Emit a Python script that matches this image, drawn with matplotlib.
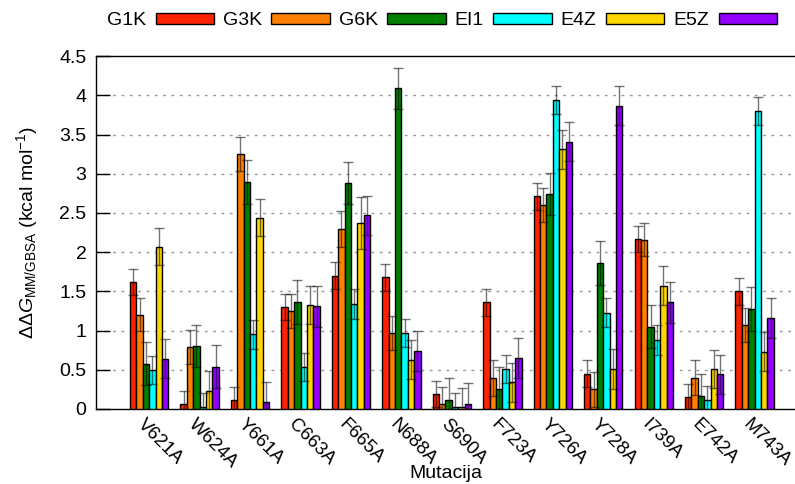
import numpy as np
import matplotlib
matplotlib.use("Agg")
import matplotlib.pyplot as plt
from matplotlib.transforms import ScaledTranslation

plt.rcParams['font.family'] = ['Liberation Sans', 'DejaVu Sans']
plt.rcParams['mathtext.fontset'] = 'custom'
plt.rcParams['mathtext.rm'] = 'Liberation Sans'
plt.rcParams['mathtext.it'] = 'Liberation Sans:italic'
plt.rcParams['font.size'] = 14

mutations = ['V621A', 'W624A', 'Y661A', 'C663A', 'F665A', 'N688A', 'S690A',
             'F723A', 'Y726A', 'Y728A', 'I739A', 'E742A', 'M743A']
series = ['G1K', 'G3K', 'G6K', 'EI1', 'E4Z', 'E5Z']

g1k = [1.62, 0.06, 0.11, 1.30, 1.70, 1.68, 0.19, 1.36, 2.71, 0.45, 2.17, 0.15, 1.50]
g3k = [1.20, 0.79, 3.25, 1.25, 2.30, 0.97, 0.06, 0.39, 2.60, 0.25, 2.16, 0.40, 1.07]
g6k = [0.58, 0.80, 2.89, 1.36, 2.88, 4.09, 0.11, 0.26, 2.74, 1.86, 1.05, 0.17, 1.28]
ei1 = [0.50, 0.02, 0.95, 0.54, 1.34, 0.97, 0.03, 0.51, 3.94, 1.23, 0.88, 0.11, 3.80]
e4z = [2.07, 0.23, 2.44, 1.33, 2.37, 0.63, 0.02, 0.34, 3.31, 0.51, 1.57, 0.51, 0.73]
e5z = [0.64, 0.54, 0.09, 1.31, 2.47, 0.74, 0.06, 0.65, 3.41, 3.87, 1.36, 0.44, 1.16]

g1k_err = [0.17, 0.17, 0.17, 0.17, 0.17, 0.17, 0.17, 0.17, 0.17, 0.17, 0.17, 0.17, 0.17]
g3k_err = [0.21, 0.22, 0.22, 0.22, 0.23, 0.22, 0.22, 0.23, 0.22, 0.22, 0.21, 0.22, 0.22]
g6k_err = [0.27, 0.27, 0.28, 0.28, 0.27, 0.26, 0.28, 0.28, 0.27, 0.28, 0.27, 0.27, 0.28]
ei1_err = [0.18, 0.19, 0.18, 0.18, 0.19, 0.18, 0.18, 0.18, 0.18, 0.18, 0.19, 0.18, 0.18]
e4z_err = [0.24, 0.25, 0.24, 0.24, 0.33, 0.25, 0.25, 0.25, 0.25, 0.25, 0.25, 0.24, 0.25]
e5z_err = [0.25, 0.27, 0.26, 0.26, 0.25, 0.25, 0.27, 0.25, 0.25, 0.25, 0.26, 0.25, 0.26]

values = [g1k, g3k, g6k, ei1, e4z, e5z]
errors = [g1k_err, g3k_err, g6k_err, ei1_err, e4z_err, e5z_err]
colors = ['#ff2200', '#ff8000', '#008000', '#00ffff', '#ffd700', '#9400ff']

fig = plt.figure(figsize=(7.95, 4.84), dpi=100)
ax = fig.add_axes([0.121, 0.155, 0.879, 0.729])

x = np.arange(len(mutations))
width = 0.127
for i, (name, vals, errs, c) in enumerate(zip(series, values, errors, colors)):
    pos = x + (i - 2.5) * width
    ax.bar(pos, vals, width, color=c, edgecolor='black', linewidth=1.0,
           label=name, zorder=3)
    ax.errorbar(pos, vals, yerr=errs, fmt='none', ecolor='black', alpha=0.55,
                elinewidth=1.0, capsize=3.5, capthick=1.0, zorder=4)

ax.set_xlim(-1.05, 12.8)
ax.set_ylim(0, 4.5)
ax.set_yticks(np.arange(0, 4.51, 0.5))
ax.set_yticklabels(['0', '0.5', '1', '1.5', '2', '2.5', '3', '3.5', '4', '4.5'])
ax.tick_params(axis='y', direction='in', length=10, width=1, pad=7)
ax.set_xticks(x)
ax.set_xticklabels(mutations, rotation=-45, ha='left', va='top',
                   rotation_mode='anchor', fontsize=13.5)
ax.tick_params(axis='x', length=0, pad=5)
shift = ScaledTranslation(-3 / 100, 0, fig.dpi_scale_trans)
for lbl in ax.get_xticklabels():
    lbl.set_transform(lbl.get_transform() + shift)

for yv in np.arange(0.5, 4.01, 0.5):
    ax.axhline(yv, color='#999999', linewidth=1.0, linestyle=(0, (2, 4)), zorder=1)

ax.spines['right'].set_visible(False)
for s in ['left', 'bottom', 'top']:
    ax.spines[s].set_linewidth(1.0)

ax.set_xlabel('Mutacija', va='center')
ax.xaxis.set_label_coords(0.5, -0.182)
ax.set_ylabel(r'$\Delta\Delta G_{\mathrm{MM/GBSA}}$ (kcal mol$^{-1}$)', labelpad=14)

ax.legend(ncol=6, loc='center left', bbox_to_anchor=(0.015, 1.10), frameon=False,
          markerfirst=False, handlelength=3.0, handleheight=0.57,
          handletextpad=0.5, columnspacing=0.45, borderaxespad=0, borderpad=0)

fig.savefig('out.png', dpi=100)
